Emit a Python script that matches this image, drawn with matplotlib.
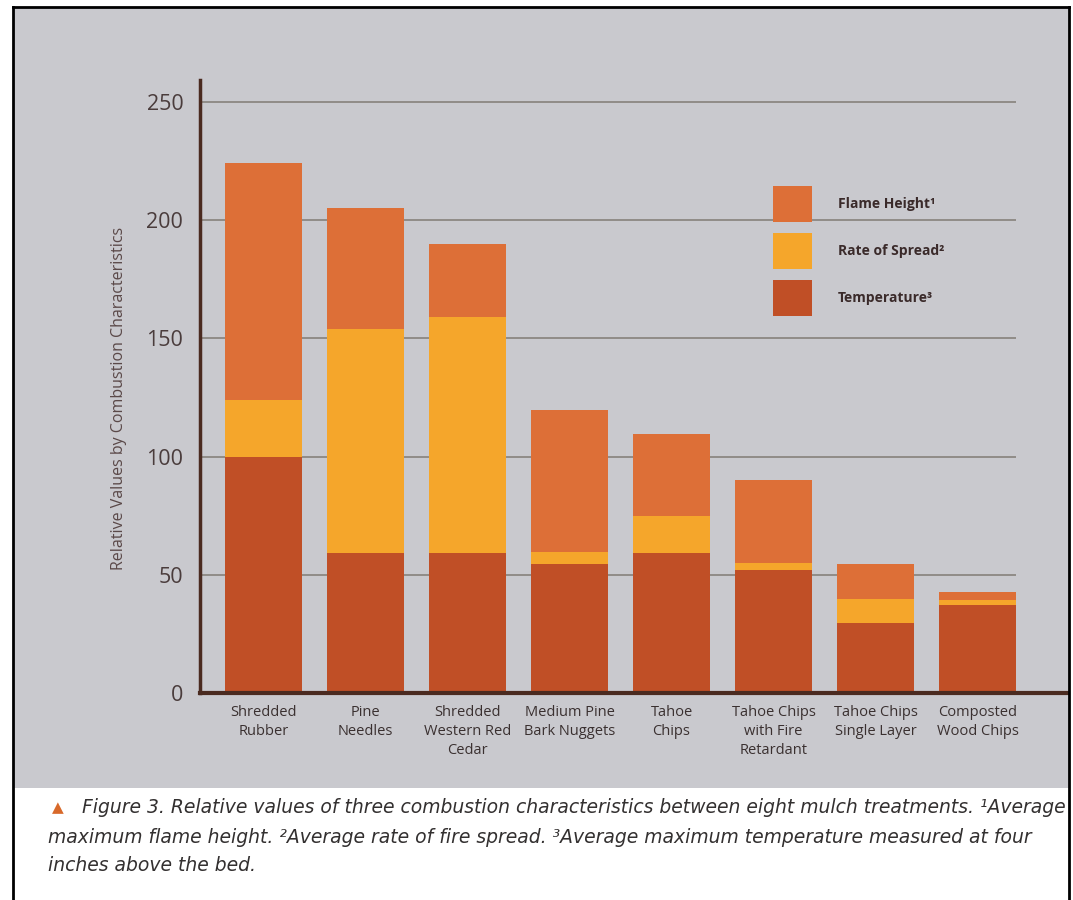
import matplotlib
matplotlib.use("Agg")
import matplotlib.pyplot as plt
from matplotlib.patches import Rectangle, Patch
from matplotlib.lines import Line2D
import numpy as np

# ── data ─────────────────────────────────────────────────────────────────
CATEGORIES = [
    "Shredded\nRubber",
    "Pine\nNeedles",
    "Shredded\nWestern Red\nCedar",
    "Medium Pine\nBark Nuggets",
    "Tahoe\nChips",
    "Tahoe Chips\nwith Fire\nRetardant",
    "Tahoe Chips\nSingle Layer",
    "Composted\nWood Chips",
]
TEMPERATURE = [100, 59, 59, 54.5, 59, 52, 29.6, 37]
RATE_OF_SPREAD = [24, 95, 100, 5, 16, 3, 10, 2.5]
FLAME_HEIGHT = [100, 51, 31, 60, 34.5, 35, 15, 3]
Y_TICKS = [0, 50, 100, 150, 200, 250]

C_FLAME, C_RATE, C_TEMP = "#DD6F37", "#F5A62B", "#C04F26"
BG = "#C9C9CE"
AXIS_BROWN = "#4A2A20"
GRID = "#86817C"
TEXT = "#4A3C3C"

W, H = 1073, 900
fig = plt.figure(figsize=(W / 100, H / 100), dpi=100, facecolor="white")


def fx(px):
    return px / W


def fy(py):
    return 1 - py / H


# grey panel + black frame
fig.patches.append(Rectangle((fx(13), fy(788)), fx(1069 - 13), fy(8) - fy(788),
                             transform=fig.transFigure, facecolor=BG,
                             edgecolor="none", zorder=-5))
for xs, ys in [((13, 1069), (7, 7)), ((13, 13), (7, 900)), ((1069, 1069), (7, 900))]:
    fig.add_artist(Line2D([fx(xs[0]), fx(xs[1])], [fy(ys[0]), fy(ys[1])],
                          transform=fig.transFigure, color="black", lw=2, zorder=10))

ax = fig.add_axes([fx(200), fy(693), fx(1068 - 200), fy(80) - fy(693)])
ax.set_facecolor("none")
ax.set_zorder(1)

x = np.arange(len(CATEGORIES))
width = 0.755
temp = np.array(TEMPERATURE)
rate = np.array(RATE_OF_SPREAD)
flame = np.array(FLAME_HEIGHT)

ax.bar(x, temp, width, color=C_TEMP, zorder=3)
ax.bar(x, rate, width, bottom=temp, color=C_RATE, zorder=3)
ax.bar(x, flame, width, bottom=temp + rate, color=C_FLAME, zorder=3)

xmin, xmax = -0.6225, 7.887
ax.set_xlim(xmin, xmax)
ax.set_ylim(0, 259.2)
ax.hlines(Y_TICKS[1:], xmin, x[-1] + width / 2, color=GRID, lw=1.2, zorder=1)

for s in ["top", "right"]:
    ax.spines[s].set_visible(False)
ax.spines["left"].set_color(AXIS_BROWN)
ax.spines["left"].set_linewidth(2.5)
ax.spines["bottom"].set_color(AXIS_BROWN)
ax.spines["bottom"].set_linewidth(3)
ax.spines["bottom"].set_zorder(4)

ax.set_yticks(Y_TICKS)
ax.set_yticklabels([str(t) for t in Y_TICKS], fontsize=15.5, color=TEXT,
                   family="Open Sans")
ax.tick_params(axis="y", length=0, pad=12)
ax.set_xticks(x)
ax.set_xticklabels(CATEGORIES, fontsize=10.5, color="#3A3030",
                   family="Open Sans", linespacing=1.33)
ax.tick_params(axis="x", length=0, pad=9)

ax.set_ylabel("Relative Values by Combustion Characteristics", fontsize=11.5,
              color="#5A4848", family="Open Sans")
ax.yaxis.set_label_coords(-0.084, 0.481)

handles = [Patch(facecolor=C_FLAME, label="Flame Height¹"),
           Patch(facecolor=C_RATE, label="Rate of Spread²"),
           Patch(facecolor=C_TEMP, label="Temperature³")]
leg = fig.legend(handles=handles, loc="upper left",
                 bbox_to_anchor=(fx(773), fy(186)), frameon=False,
                 borderpad=0, borderaxespad=0,
                 prop={"family": "Open Sans", "weight": "bold", "size": 10},
                 handlelength=2.8, handleheight=3.62, labelspacing=0.8,
                 handletextpad=1.85)
leg.set_zorder(5)
for t in leg.get_texts():
    t.set_color("#3A2A2A")

# caption
fig.text(fx(52), fy(812), "▲", fontsize=11, color="#D8692A", family="DejaVu Sans")
cap_kw = dict(fontsize=13.5, color="#333030", family="DejaVu Sans", style="italic")
fig.text(fx(82), fy(813), "Figure 3. Relative values of three combustion characteristics "
         "between eight mulch treatments. ¹Average", **cap_kw)
fig.text(fx(48), fy(843), "maximum flame height. ²Average rate of fire spread. "
         "³Average maximum temperature measured at four", **cap_kw)
fig.text(fx(48), fy(871), "inches above the bed.", **cap_kw)

fig.savefig("out.png", dpi=100, facecolor="white")
